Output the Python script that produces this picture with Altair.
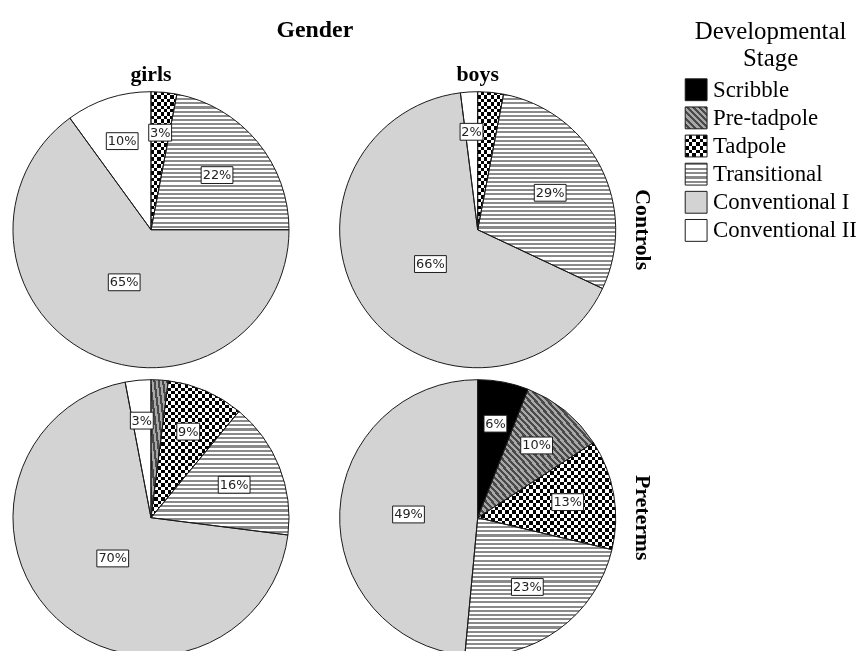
import math
import altair as alt
import pandas as pd

# ---------------- data ----------------
stages = ["Scribble", "Pre-tadpole", "Tadpole", "Transitional", "Conventional I", "Conventional II"]
genders = ["girls", "boys"]
groups = ["Controls", "Preterms"]

girls_controls = [0, 0, 3, 22, 65, 10]
boys_controls = [0, 0, 3, 29, 66, 2]
girls_preterms = [0, 2, 9, 16, 70, 3]
boys_preterms = [6, 10, 13, 23, 49, 0]

# slices whose percentage label is not printed in the original
hidden_labels = [("boys", "Controls", "Tadpole"), ("girls", "Preterms", "Pre-tadpole")]

rows = []
for gender, group, vals in [
    ("girls", "Controls", girls_controls),
    ("boys", "Controls", boys_controls),
    ("girls", "Preterms", girls_preterms),
    ("boys", "Preterms", boys_preterms),
]:
    for i, (s, v) in enumerate(zip(stages, vals)):
        rows.append({
            "gender": gender, "group": group, "stage": s, "order": i, "pct": v,
            "show": bool(v > 0 and (gender, group, s) not in hidden_labels),
        })
df = pd.DataFrame(rows)
legend_df = pd.DataFrame({"stage": stages, "idx": list(range(len(stages)))})

# ---------------- pattern helpers (gradients with hard stops) ----------------
def stripes(n, c1, c2, x1, y1, x2, y2, frac=0.5):
    stops = []
    for k in range(n):
        a = round(k / n, 5)
        b = round((k + frac) / n, 5)
        c = round((k + 1) / n, 5)
        stops += [
            {"offset": a, "color": c1}, {"offset": b, "color": c1},
            {"offset": b, "color": c2}, {"offset": c, "color": c2},
        ]
    return {"gradient": "linear", "x1": x1, "y1": y1, "x2": x2, "y2": y2, "stops": stops}

CLEAR = "rgba(0,0,0,0)"
GRAY1 = "#d3d3d3"
panels = [("girls", "Controls"), ("boys", "Controls"), ("girls", "Preterms"), ("boys", "Preterms")]

# stripe counts per panel (style only: keeps the pattern density similar)
trans_n = {("girls", "Controls"): 33, ("boys", "Controls"): 47, ("girls", "Preterms"): 29, ("boys", "Preterms"): 33}
pre_n = {("girls", "Controls"): 30, ("boys", "Controls"): 30, ("girls", "Preterms"): 8, ("boys", "Preterms"): 38}
tad_rows = {("girls", "Controls"): 20, ("boys", "Controls"): 20, ("girls", "Preterms"): 20, ("boys", "Preterms"): 15}
tad_cols = {("girls", "Controls"): 4, ("boys", "Controls"): 4, ("girls", "Preterms"): 13, ("boys", "Preterms"): 20}

def panel_fill(make):
    conds = [
        {"test": f"datum.gender === '{g}' && datum.group === '{p}'", "value": make((g, p))}
        for g, p in panels[:-1]
    ]
    return {"condition": conds, "value": make(panels[-1])}

fills = {
    "Scribble": lambda k: "black",
    "Pre-tadpole": lambda k: stripes(pre_n[k], "#4a4a4a", "#a8a8a8", 1, 0, 0, 1),
    "Tadpole": lambda k: stripes(tad_rows[k], "black", "white", 0, 0, 0, 1),
    "Transitional": lambda k: stripes(trans_n[k], "#8a8a8a", "white", 0, 0, 0, 1),
    "Conventional I": lambda k: GRAY1,
    "Conventional II": lambda k: "white",
}
tad_overlay = lambda k: stripes(tad_cols[k], "white", CLEAR, 0, 0, 1, 0)

CELL = 278
R = CELL / 2

# ---------------- pies ----------------
base = (
    alt.Chart()
    .transform_filter("datum.pct > 0")
    .transform_window(
        cum="sum(pct)", groupby=["gender", "group"],
        sort=[alt.SortField("order", order="ascending")], frame=[None, 0],
    )
    .transform_joinaggregate(total="sum(pct)", groupby=["gender", "group"])
    .transform_calculate(
        t0="(datum.cum - datum.pct) / datum.total",
        t1="datum.cum / datum.total",
        mid="(datum.cum - datum.pct / 2) / datum.total",
    )
    .transform_calculate(
        lr="0.72 - 0.45 * datum.pct / datum.total",
    )
    .transform_calculate(
        lx="datum.lr * sin(2 * PI * datum.mid)",
        ly="datum.lr * cos(2 * PI * datum.mid)",
        lbl="datum.pct + '%'",
    )
    .transform_calculate(
        boxpath="length(datum.lbl) > 2 ? 'M-1,-0.53H1V0.53H-1Z' : 'M-0.72,-0.53H0.72V0.53H-0.72Z'",
    )
)

theta_enc = dict(
    theta=alt.Theta("t0:Q", scale=alt.Scale(domain=[0, 1], range=[0, 2 * math.pi])),
    theta2=alt.Theta2("t1:Q"),
)

layers = []
for s in stages:
    layers.append(
        base.transform_filter(alt.datum.stage == s)
        .mark_arc(strokeWidth=0, outerRadius=R)
        .encode(fill=panel_fill(fills[s]), **theta_enc)
    )
layers.append(
    base.transform_filter(alt.datum.stage == "Tadpole")
    .mark_arc(strokeWidth=0, blend="difference", outerRadius=R)
    .encode(fill=panel_fill(tad_overlay), **theta_enc)
)
layers.append(
    base.mark_arc(fill="white", fillOpacity=0, stroke="#1a1a1a", strokeWidth=1, outerRadius=R)
    .encode(**theta_enc)
)

xy = dict(
    x=alt.X("lx:Q", scale=alt.Scale(domain=[-1, 1], nice=False, zero=False), axis=None),
    y=alt.Y("ly:Q", scale=alt.Scale(domain=[-1, 1], nice=False, zero=False), axis=None),
)
labels = base.transform_filter("datum.show")
layers.append(
    labels.mark_point(filled=True, fill="white", stroke="#1a1a1a", strokeWidth=1, opacity=1)
    .encode(shape=alt.Shape("boxpath:N", scale=None), size=alt.value(1024), **xy)
)
layers.append(
    labels.mark_text(font="DejaVu Sans", fontSize=13, color="#222", baseline="middle", align="center")
    .encode(text="lbl:N", **xy)
)

pies = alt.layer(*layers, data=df).properties(width=CELL, height=CELL)

hdr_font = "Liberation Serif"
facet = pies.facet(
    column=alt.Column(
        "gender:N", sort=genders, title="Gender",
        header=alt.Header(
            titleFont=hdr_font, titleFontSize=24, titleFontWeight="bold", titleColor="black",
            titlePadding=11,
            labelFont=hdr_font, labelFontSize=22, labelFontWeight="bold", labelColor="black",
            labelPadding=4,
        ),
    ),
    row=alt.Row(
        "group:N", sort=groups, title=None,
        header=alt.Header(
            labelOrient="right", labelAngle=90,
            labelFont=hdr_font, labelFontSize=22, labelFontWeight="bold", labelColor="black",
            labelPadding=13,
        ),
    ),
    spacing={"row": 8, "column": 47},
)

# ---------------- legend ----------------
leg_fills = {
    "Scribble": "black",
    "Pre-tadpole": stripes(7, "#4a4a4a", "#a8a8a8", 1, 0, 0, 1),
    "Tadpole": stripes(3, "black", "white", 0, 0, 0, 1),
    "Transitional": stripes(5, "#8a8a8a", "white", 0, 0, 0, 1),
    "Conventional I": GRAY1,
    "Conventional II": "white",
}
leg_base = alt.Chart(legend_df).encode(
    x=alt.value(11),
    y=alt.Y("idx:Q", scale=alt.Scale(domain=[0.07, 6.07], reverse=True, nice=False, zero=False), axis=None),
)
leg_layers = []
for s in stages:
    leg_layers.append(
        leg_base.transform_filter(alt.datum.stage == s)
        .mark_point(shape="square", size=484, filled=True, fill=leg_fills[s], strokeWidth=0, opacity=1)
    )
leg_layers.append(
    leg_base.transform_filter(alt.datum.stage == "Tadpole")
    .mark_point(shape="square", size=484, filled=True, fill=stripes(3, "white", CLEAR, 0, 0, 1, 0),
                strokeWidth=0, opacity=1, blend="difference")
)
leg_layers.append(
    leg_base.mark_point(shape="square", size=484, filled=False, stroke="#1a1a1a", strokeWidth=1, opacity=1)
)
leg_layers.append(
    leg_base.mark_text(font=hdr_font, fontSize=23, color="black", align="left", baseline="middle", dx=17)
    .encode(text="stage:N")
)
legend = alt.layer(*leg_layers).properties(
    width=172, height=170,
    title=alt.Title(["Developmental", "Stage"], font=hdr_font, fontSize=25, fontWeight="normal",
                    color="black", anchor="middle", lineHeight=27, offset=6),
)

chart = (
    alt.hconcat(facet, legend, spacing=30)
    .properties(padding={"left": 3, "top": 8, "right": 0, "bottom": 0})
    .configure_view(stroke=None)
)

chart.save("out.html", embed_options={"renderer": "svg", "actions": False})
